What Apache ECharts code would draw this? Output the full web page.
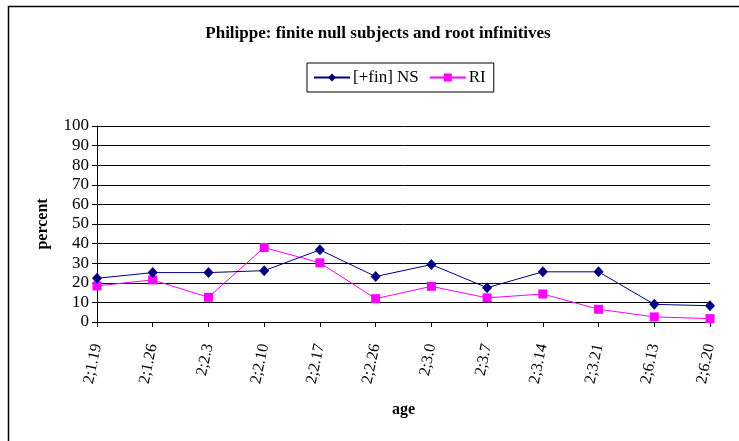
<!DOCTYPE html>
<html>
<head>
<meta charset="utf-8">
<script src="https://cdn.jsdelivr.net/npm/echarts@6/dist/echarts.min.js"></script>
<style>
  html, body { margin: 0; padding: 0; background: #fff; }
  #chart { width: 739px; height: 441px; }
</style>
</head>
<body>
<div id="chart"></div>
<script>
// Ages of the recording sessions (years;months.days)
const ages = ['2;1.19', '2;1.26', '2;2.3', '2;2.10', '2;2.17', '2;2.26',
              '2;3.0', '2;3.7', '2;3.14', '2;3.21', '2;6.13', '2;6.20'];
// Percentage of finite null subjects
const finiteNullSubjects = [22.3, 25.2, 25.2, 26.2, 36.8, 23.2, 29.3, 17.5, 25.6, 25.6, 9.0, 8.3];
// Percentage of root infinitives
const rootInfinitives = [18.4, 21.5, 12.6, 38.0, 30.2, 11.9, 18.2, 12.3, 14.3, 6.5, 2.6, 1.7];
// Y axis ticks
const yTicks = { min: 0, max: 100, step: 10 };

const serif = '"Liberation Serif", "DejaVu Serif", serif';

const chart = echarts.init(document.getElementById('chart'), null, { renderer: 'canvas' });
chart.setOption({
  animation: false,
  backgroundColor: '#fff',
  title: {
    text: 'Philippe: finite null subjects and root infinitives',
    left: 373, top: 20, textAlign: 'center',
    textStyle: { fontFamily: serif, fontWeight: 'bold', fontSize: 17, color: '#000' }
  },
  legend: {
    left: 307, top: 63,
    width: 194, height: 29,
    borderColor: '#000', borderWidth: 1,
    padding: [6, 8, 6, 6],
    itemWidth: 36, itemHeight: 10, itemGap: 10,
    textStyle: { fontFamily: serif, fontSize: 17, color: '#000', padding: [0, 0, 0, -2] },
    data: ['[+fin] NS', 'RI']
  },
  grid: { left: 97, top: 126, right: 29, bottom: 119, containLabel: false },
  xAxis: {
    type: 'category',
    data: ages,
    boundaryGap: false,
    name: 'age',
    nameLocation: 'middle',
    nameGap: 80,
    nameTextStyle: { fontFamily: serif, fontWeight: 'bold', fontSize: 16, color: '#000' },
    axisLine: { lineStyle: { color: '#000', width: 1 } },
    axisTick: { show: true, alignWithLabel: true, length: 5, lineStyle: { color: '#000' } },
    axisLabel: {
      rotate: 78, margin: 22, interval: 0,
      fontFamily: serif, fontSize: 16, color: '#000'
    },
    splitLine: { show: false }
  },
  yAxis: {
    type: 'value',
    min: yTicks.min, max: yTicks.max, interval: yTicks.step,
    name: 'percent',
    nameLocation: 'middle',
    nameGap: 46,
    nameTextStyle: { fontFamily: serif, fontWeight: 'bold', fontSize: 16, color: '#000' },
    axisLine: { show: true, lineStyle: { color: '#000', width: 1 } },
    axisTick: { show: true, length: 5, lineStyle: { color: '#000' } },
    axisLabel: { margin: 8, fontFamily: serif, fontSize: 17, color: '#000' },
    splitLine: { show: true, lineStyle: { color: '#000', width: 1 } }
  },
  series: [
    {
      name: '[+fin] NS',
      type: 'line',
      data: finiteNullSubjects,
      symbol: 'diamond',
      symbolSize: [10, 11],
      itemStyle: { color: '#000080' },
      lineStyle: { color: '#000080', width: 1 },
      z: 3
    },
    {
      name: 'RI',
      type: 'line',
      data: rootInfinitives,
      symbol: 'rect',
      symbolSize: 9,
      itemStyle: { color: '#FF00FF' },
      lineStyle: { color: '#FF00FF', width: 1 },
      z: 2
    }
  ],
  graphic: [
    {
      type: 'rect',
      shape: { x: 8.5, y: 6.5, width: 800, height: 500 },
      style: { fill: 'none', stroke: '#000', lineWidth: 1.5 },
      silent: true
    }
  ]
});
</script>
</body>
</html>
